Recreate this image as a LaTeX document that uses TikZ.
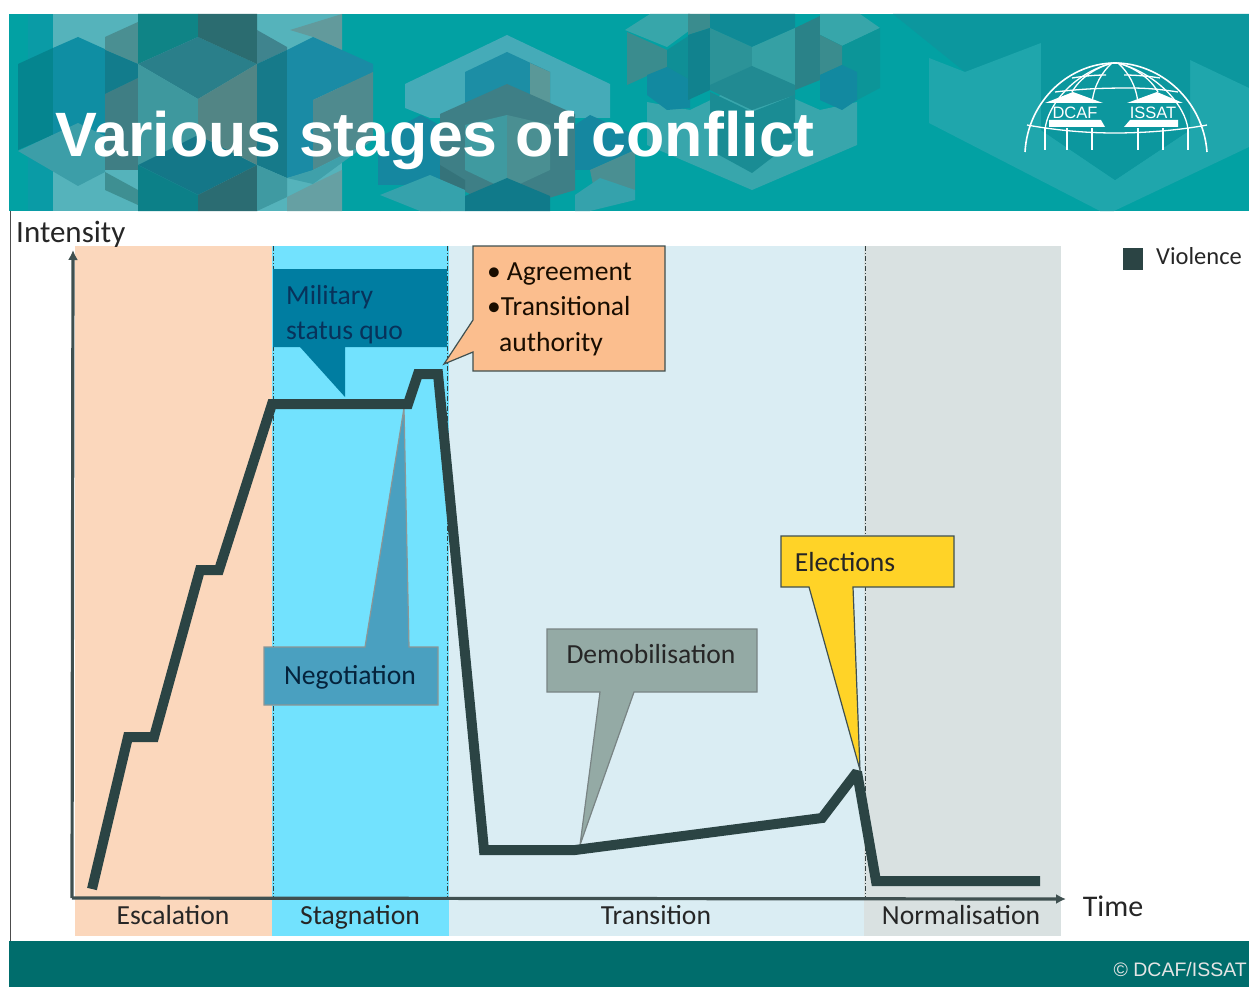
\documentclass[tikz,border=0pt]{standalone}
\usepackage{fontspec}
\setmainfont{Carlito}
\newfontfamily\titlefont{Liberation Sans}
\newfontfamily\smallfont{Liberation Sans}
\usetikzlibrary{arrows.meta,calc}
\definecolor{bannerbg}{HTML}{02A1A3}
\definecolor{footerbg}{HTML}{006D6C}
\definecolor{curvecol}{HTML}{2B4444}
\definecolor{bandesc}{HTML}{FBD7BC}
\definecolor{bandsta}{HTML}{72E2FE}
\definecolor{bandtra}{HTML}{DAEDF3}
\definecolor{bandnor}{HTML}{D9E1E1}
\definecolor{axiscol}{HTML}{3F5050}
\tikzset{
  x=1pt,y=-1pt,
  lbl/.style={font=\fontsize{27.6}{33}\selectfont,text=black!85,inner sep=0pt},
  blbl/.style={lbl,anchor=base},
  violence/.style={draw=curvecol,line width=10pt,line join=miter,miter limit=2},
  sep/.style={draw=axiscol!80!black,line width=.9pt,dash pattern=on 5pt off 2pt on 1pt off 2pt},
  axis/.style={draw=axiscol,line width=3.2pt,-{Latex[length=10pt,width=10pt]}},
  callout/.style={line width=1.2pt},
  holder/.style={inner sep=0pt,anchor=north west},
}
% filled polygon in a direct colour: \pg{HTML}{path}
\newcommand{\pg}[2]{\definecolor{pgtmp}{HTML}{#1}\fill[pgtmp] #2 -- cycle;}
\begin{document}
\begin{tikzpicture}
\useasboundingbox (0,0) rectangle (1249,987);
\fill[white] (0,0) rectangle (1249,987);
% banner
\fill[bannerbg] (9,14) rectangle (1249,211);
\begin{scope}
\clip (9,14) rectangle (1249,211);
% --- left cluster
\pg{0A9BA6}{(28,14) -- (53,14) -- (53,211) -- (28,211)}
\pg{55B3BB}{(53,14) -- (342,14) -- (342,211) -- (53,211)}
\pg{05858F}{(18,64) -- (53,48) -- (53,135) -- (18,150)}
\pg{0F8EA3}{(53,48) -- (78,37) -- (138,64) -- (138,130) -- (105,140) -- (53,135)}
\pg{3C9EA8}{(18,151) -- (78,123) -- (105,136) -- (105,172) -- (78,186)}
\pg{4A8F92}{(105,37) -- (138,22) -- (138,64) -- (105,50)}
\pg{127C8C}{(105,50) -- (138,64) -- (138,78) -- (105,94)}
\pg{3F7E84}{(105,94) -- (138,78) -- (138,170) -- (105,170)}
\pg{3E8F92}{(105,172) -- (138,190) -- (138,205) -- (105,190)}
\pg{0F8486}{(138,14) -- (198,14) -- (198,37) -- (138,64)}
\pg{2A7F8A}{(138,64) -- (198,37) -- (257,64) -- (198,99)}
\pg{3E989E}{(138,64) -- (198,99) -- (198,135) -- (138,165)}
\pg{147788}{(138,165) -- (198,135) -- (257,165) -- (198,195)}
\pg{0C8088}{(138,165) -- (198,195) -- (198,211) -- (138,211)}
\pg{2B6C72}{(198,195) -- (257,165) -- (257,211) -- (198,211)}
\pg{2B6C70}{(198,14) -- (257,14) -- (257,64) -- (198,37)}
\pg{528585}{(198,99) -- (257,64) -- (257,165) -- (198,135)}
\pg{3F848E}{(257,30) -- (287,47) -- (287,50) -- (257,64)}
\pg{629A9C}{(290,30) -- (342,14) -- (342,50) -- (313,37)}
\pg{167A8A}{(257,64) -- (287,50) -- (287,178) -- (257,165)}
\pg{1A8BA5}{(287,50) -- (313,37) -- (373,64) -- (373,72) -- (313,100) -- (313,172) -- (287,178)}
\pg{4F8A8E}{(313,100) -- (373,72) -- (373,140) -- (313,170)}
\pg{3FA0AA}{(313,170) -- (373,140) -- (313,184) -- (287,178)}
\pg{66A0A3}{(287,197) -- (313,184) -- (342,170) -- (342,211) -- (287,211)}
\pg{3F9AA2}{(257,165) -- (287,178) -- (287,197) -- (257,211)}
% --- middle cluster
\pg{45ABB8}{(405,84) -- (507,35) -- (610,84) -- (610,118) -- (430,118) -- (405,108)}
\pg{1C8EA5}{(465,72) -- (507,52) -- (550,72) -- (550,120) -- (465,120)}
\pg{5A9898}{(530,63) -- (550,72) -- (550,120) -- (530,110)}
\pg{1587A0}{(378,138) -- (421,115) -- (445,128) -- (445,185) -- (378,185)}
\pg{3E7F86}{(440,114) -- (507,84) -- (575,114) -- (575,190) -- (507,211) -- (440,180)}
\pg{3F9AA0}{(465,125) -- (507,115) -- (507,190) -- (465,170)}
\pg{4A8F92}{(507,115) -- (550,125) -- (550,170) -- (507,190)}
\pg{35737A}{(440,165) -- (465,180) -- (465,195) -- (440,211)}
\pg{35A2AC}{(380,195) -- (430,175) -- (465,190) -- (465,211) -- (420,211)}
\pg{107A8A}{(507,178) -- (465,196) -- (465,211) -- (550,211) -- (550,196)}
\pg{1587A0}{(575,125) -- (590,115) -- (635,135) -- (635,150) -- (590,170) -- (575,170)}
\pg{4A8F92}{(590,170) -- (635,150) -- (635,190) -- (595,195)}
\pg{35A2AC}{(575,195) -- (600,178) -- (635,190) -- (635,200) -- (590,211) -- (575,211)}
% --- right cluster
\pg{37A6AA}{(625,30) -- (650,14) -- (690,14) -- (690,30) -- (667,47)}
\pg{3A8C8E}{(627,32) -- (667,50) -- (667,67) -- (627,85)}
\pg{0F8F96}{(667,50) -- (690,35) -- (690,85) -- (667,67)}
\pg{38A6AC}{(647,102) -- (690,110) -- (752,80) -- (820,110) -- (857,102) -- (857,145) -- (752,190) -- (647,145)}
\pg{1289A0}{(647,75) -- (667,67) -- (690,80) -- (690,108) -- (667,110) -- (647,95)}
\pg{3A8C8E}{(688,14) -- (710,14) -- (710,28) -- (688,35)}
\pg{11828E}{(688,35) -- (710,28) -- (710,90) -- (688,100)}
\pg{0F8A96}{(710,14) -- (795,14) -- (795,28) -- (752,47) -- (710,28)}
\pg{2C9398}{(710,28) -- (752,47) -- (752,103) -- (710,85)}
\pg{35A0A4}{(752,47) -- (795,28) -- (795,90) -- (752,72)}
\pg{218A92}{(710,85) -- (752,66) -- (795,85) -- (795,95) -- (752,110) -- (710,90)}
\pg{1A8C94}{(710,92) -- (752,112) -- (795,95) -- (795,140) -- (752,173) -- (710,150)}
\pg{2A8288}{(795,28) -- (820,16) -- (820,80) -- (795,90)}
\pg{37A6AA}{(820,14) -- (860,14) -- (880,28) -- (842,46) -- (820,35)}
\pg{0C9598}{(820,35) -- (842,46) -- (880,28) -- (880,88) -- (842,108) -- (820,100)}
\pg{3A8C8E}{(820,35) -- (842,46) -- (842,65) -- (820,75)}
\pg{1289A0}{(820,75) -- (842,65) -- (857,72) -- (857,100) -- (842,110) -- (820,100)}
% --- far right
\pg{0C979E}{(893,14) -- (1249,14) -- (1249,90) -- (1190,60) -- (1115,100) -- (1041,60) -- (965,72)}
\pg{1FA6AC}{(929,58) -- (965,72) -- (1041,43) -- (1041,130) -- (1115,180) -- (1190,130) -- (1190,60) -- (1249,88) -- (1249,147) -- (1114,211) -- (1100,211) -- (929,123)}
\pg{0C979E}{(1041,43) -- (1115,14) -- (1190,43) -- (1190,130) -- (1115,180) -- (1041,130)}
\end{scope}
\fill[footerbg] (9,941) rectangle (1249,987);
\draw[black!70,line width=.8pt] (10,211) -- (10,941);
% title
\node[font=\titlefont\bfseries\fontsize{62.7}{70}\selectfont,text=white,anchor=base west,inner sep=0pt] (title) at (55,157) {Various stages of conflict};
% logo
\begin{scope}[draw=white,line width=1.6pt]
\draw (1025,152) .. controls (1028,100) and (1070,63) .. (1115,63) .. controls (1160,63) and (1203,100) .. (1207,152);
\draw[line width=1.3pt] (1045,130) .. controls (1047,105) and (1075,72) .. (1113,63);
\draw[line width=1.3pt] (1188,130) .. controls (1186,105) and (1155,72) .. (1117,63);
\draw[line width=1.3pt] (1072,92) .. controls (1080,78) and (1095,68) .. (1112,63);
\draw[line width=1.3pt] (1158,92) .. controls (1150,78) and (1135,68) .. (1118,63);
\draw[line width=1.3pt] (1092,103) .. controls (1094,85) and (1102,72) .. (1112,63);
\draw[line width=1.3pt] (1138,103) .. controls (1136,85) and (1128,72) .. (1118,63);
\draw[line width=1.3pt] (1072,78) .. controls (1085,76) and (1095,75) .. (1106,75);
\draw[line width=1.3pt] (1124,75) .. controls (1135,75) and (1148,76) .. (1160,78);
\draw[line width=1.3pt] (1055,92) .. controls (1080,89) and (1100,88) .. (1130,88) .. controls (1150,88) and (1165,90) .. (1178,92);
\draw[line width=1.3pt] (1027,125) .. controls (1060,131) and (1090,133) .. (1115,133) .. controls (1140,133) and (1175,131) .. (1207,125);
\foreach \px in {1045,1067,1092,1138,1163,1188} {\draw[line width=1.3pt] (\px,128) -- (\px,150);}
\end{scope}
\fill[white] (1045,103) -- (1073,92) -- (1103,103) -- cycle;
\fill[white] (1127,103) -- (1157,92) -- (1183,103) -- cycle;
\fill[white] (1049,120) -- (1101,120) -- (1105,127) -- (1049,127) -- cycle;
\fill[white] (1130,120) -- (1178,120) -- (1178,127) -- (1124,127) -- cycle;
\node[font=\smallfont\fontsize{16.5}{18}\selectfont,text=white,inner sep=0pt] (dcaf) at (1075,113) {DCAF};
\node[font=\smallfont\fontsize{16.5}{18}\selectfont,text=white,inner sep=0pt] (issat) at (1153,113) {ISSAT};
\node[font=\smallfont\fontsize{19.5}{20}\selectfont,text=white!90!black,anchor=east,inner sep=0pt] (copy) at (1247,970) {\textcopyright{} DCAF/ISSAT};
% bands
\fill[bandesc] (75,246) rectangle (272,936);
\fill[bandsta] (272,246) rectangle (449,936);
\fill[bandtra] (449,246) rectangle (864,936);
\fill[bandnor] (864,246) rectangle (1061,936);
% separators
\coordinate (sa) at (273,246); \coordinate (sa2) at (273,898);
\coordinate (sb) at (447,246); \coordinate (sb2) at (447,898);
\coordinate (sc) at (865,246); \coordinate (sc2) at (865,898);
\draw[sep] (sa) -- (sa2);
\draw[sep] (sb) -- (sb2);
\draw[sep] (sc) -- (sc2);
% axes
\coordinate (org) at (72,898);
\coordinate (ytop) at (73,250);
\coordinate (xend) at (1066,899);
% callouts
\fill[fill={rgb,255:red,0;green,125;blue,161}] (273,269) -- (447,269) -- (447,347) -- (345,347) -- (345,397) -- (300,347) -- (273,347) -- cycle;
\node[holder,minimum width=174pt,minimum height=78pt] (mil) at (273,269) {};
\node[lbl,anchor=base west,align=left,font=\fontsize{27.6}{35}\selectfont,text={rgb,255:red,8;green,50;blue,90}] (miltxt) at (286,339) {Military\\status quo};
\draw[callout,draw=axiscol!60!white,fill={rgb,255:red,74;green,160;blue,192}] (264,647) -- (365,647) -- (404,408) -- (409,647) -- (438,647) -- (438,705) -- (264,705) -- cycle;
\node[holder,minimum width=174pt,minimum height=58pt] (neg) at (264,647) {};
\node[blbl,text={rgb,255:red,5;green,35;blue,60}] (negtxt) at (350,684) {Negotiation};
\draw[callout,draw=axiscol,fill={rgb,255:red,251;green,190;blue,142}] (473,246) -- (665,246) -- (665,371) -- (473,371) -- (473,352) -- (444,364) -- (473,320) -- cycle;
\node[holder,minimum width=192pt,minimum height=125pt] (agr) at (473,246) {};
\node[lbl,anchor=base west,align=left,font=\fontsize{27.6}{35.5}\selectfont,text=black!90!orange] (agrtxt) at (487,351) {\textbullet\hspace{6pt}Agreement\\\textbullet{}Transitional\\\hspace{12pt}authority};
\draw[callout,draw=axiscol!70!white,fill={rgb,255:red,148;green,170;blue,165}] (547,629) -- (757,629) -- (757,692) -- (634,692) -- (580,845) -- (600,692) -- (547,692) -- cycle;
\node[holder,minimum width=210pt,minimum height=63pt] (dem) at (547,629) {};
\node[blbl] (demtxt) at (651,663) {Demobilisation};
\draw[callout,draw=axiscol,fill={rgb,255:red,255;green,211;blue,39}] (781,536) -- (954,536) -- (954,587) -- (853,587) -- (860,770) -- (809,587) -- (781,587) -- cycle;
\node[holder,minimum width=173pt,minimum height=51pt] (ele) at (781,536) {};
\node[blbl] (eletxt) at (845,571) {Elections};
% axes and curve
\draw[axis] (org) -- (ytop);
\draw[axis] (org) -- (xend);
\draw[violence] (92,889) -- (128,737) -- (154,737) -- (200,570) -- (219,570) -- (272,404) -- (408,404) -- (418,374) -- (438,374) -- (484,850) -- (575,850) -- (822,818) -- (857,772) -- (876,881) -- (1040,881);
% labels
\node[blbl] (esc) at (173,924) {Escalation};
\node[blbl] (sta) at (360,924) {Stagnation};
\node[blbl] (tra) at (656,924) {Transition};
\node[blbl] (nor) at (961,924) {Normalisation};
\node[blbl,font=\fontsize{30}{33}\selectfont] (time) at (1113,916) {Time};
\node[blbl,anchor=base west,font=\fontsize{31}{33}\selectfont] (inten) at (16,242) {Intensity};
\fill[curvecol] (1123,248) rectangle (1143,270);
\node[blbl,font=\fontsize{24.5}{30}\selectfont,anchor=base west] (viol) at (1156,264) {Violence};
\end{tikzpicture}
\end{document}
